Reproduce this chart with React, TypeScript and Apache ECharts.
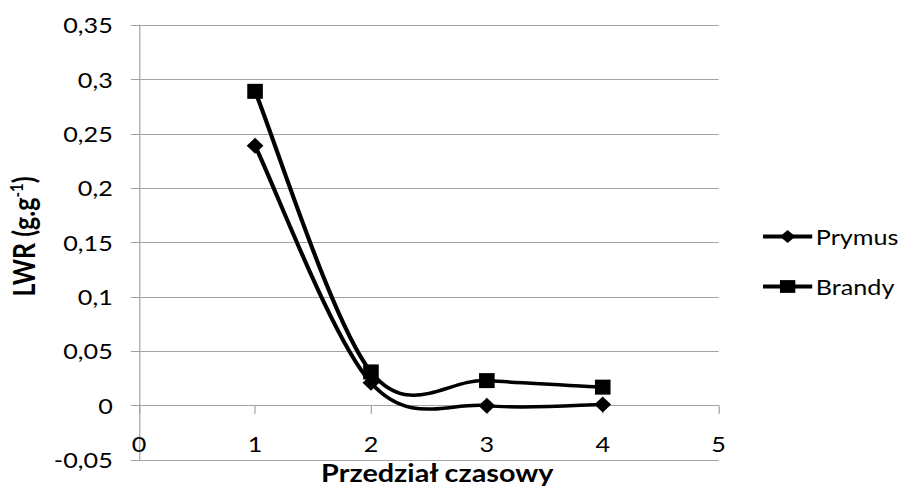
import React, { useEffect, useRef } from "react";
import * as echarts from "echarts";

// Time intervals (x) and LWR values for the two cultivars
const intervals = [1, 2, 3, 4];
const prymus = [0.239, 0.021, 0.0, 0.001];
const brandy = [0.289, 0.031, 0.023, 0.017];
const seriesNames = ["Prymus", "Brandy"];

const FONT = "Lato, 'Open Sans', sans-serif";
const GRID_COLOR = "#a3a3a3";
const LINE_W = 3.5;

// The chart is laid out on a narrower canvas and widened to the page with scaleX,
// which gives the wide, Calibri-like lettering.
const PAGE_W = 901;
const PAGE_H = 493;
const CHART_W = 751;
const STRETCH = PAGE_W / CHART_W;

const fmt = (v: number) => String(Math.round(v * 100) / 100).replace(".", ",");

const pair = (ys: number[]) => intervals.map((x, i) => [x, ys[i]]);

// Smoothed connecting line (Catmull-Rom style cubic segments) drawn through
// the data points in pixel space, via the grid's own coordinate mapping.
const curveSeries = (ys: number[], id: string) => ({
  id,
  type: "custom",
  data: pair(ys),
  z: 2,
  silent: true,
  renderItem: (params: any, api: any) => {
    const i = params.dataIndex;
    const n = ys.length;
    if (i >= n - 1) return null;
    const pt = (k: number) => {
      const j = Math.max(0, Math.min(n - 1, k));
      return api.coord([intervals[j], ys[j]]);
    };
    const p0 = pt(i - 1);
    const p1 = pt(i);
    const p2 = pt(i + 1);
    const p3 = pt(i + 2);
    return {
      type: "bezierCurve",
      shape: {
        x1: p1[0],
        y1: p1[1],
        cpx1: p1[0] + (p2[0] - p0[0]) / 6,
        cpy1: p1[1] + (p2[1] - p0[1]) / 6,
        cpx2: p2[0] - (p3[0] - p1[0]) / 6,
        cpy2: p2[1] - (p3[1] - p1[1]) / 6,
        x2: p2[0],
        y2: p2[1],
      },
      style: { stroke: "#000", lineWidth: LINE_W, fill: null, lineCap: "round" },
    };
  },
});

// Markers and legend entries
const markerSeries = (ys: number[], name: string, symbol: string, size: number[]) => ({
  name,
  type: "line",
  data: pair(ys),
  z: 3,
  symbol,
  symbolSize: size,
  showSymbol: true,
  color: "#000",
  itemStyle: { color: "#000" },
  lineStyle: { color: "#000", width: LINE_W, opacity: 0 },
});

export default function App() {
  const ref = useRef<HTMLDivElement>(null);

  useEffect(() => {
    document.body.style.margin = "0";
    if (!ref.current) return;
    const chart = echarts.init(ref.current, undefined, { renderer: "svg" });

    const xRange = { type: "value", min: 0, max: 5, interval: 1 };
    const legendLine = { color: "#000", width: 4, opacity: 1 };

    chart.setOption({
      animation: false,
      backgroundColor: "#ffffff",
      textStyle: { fontFamily: FONT, color: "#000" },
      grid: { left: 116, right: 152, top: 25, bottom: 33, containLabel: false, outerBoundsMode: "none" },
      xAxis: [
        {
          // axis line and ticks sitting on y = 0
          ...xRange,
          axisLine: { show: true, onZero: true, lineStyle: { color: GRID_COLOR, width: 1 } },
          axisTick: { show: true, length: 8, lineStyle: { color: GRID_COLOR } },
          axisLabel: { show: false },
          splitLine: { show: false },
        },
        {
          // tick labels and title, placed from the bottom edge
          ...xRange,
          position: "bottom",
          name: "Przedział czasowy",
          nameLocation: "middle",
          nameGap: 1,
          nameMoveOverlap: false,
          nameTextStyle: {
            fontFamily: FONT,
            fontSize: 24,
            fontWeight: "bold",
            color: "#000",
            padding: [0, 0, 0, 14],
          },
          axisLine: { show: false, onZero: false },
          axisTick: { show: false },
          axisLabel: { fontFamily: FONT, fontSize: 21, color: "#000", margin: -27 },
          splitLine: { show: false },
        },
      ],
      yAxis: {
        type: "value",
        min: -0.05,
        max: 0.35,
        interval: 0.05,
        name: "{m|LWR (g.g}{s|-1}{m|)}",
        nameLocation: "middle",
        nameGap: 82,
        nameMoveOverlap: false,
        nameTextStyle: {
          fontFamily: FONT,
          fontWeight: "bold",
          color: "#000",
          padding: [0, 0, 0, 12],
          rich: {
            m: { fontFamily: FONT, fontSize: 25, fontWeight: "bold", lineHeight: 28 },
            s: { fontFamily: FONT, fontSize: 15, fontWeight: "bold", lineHeight: 15, verticalAlign: "top" },
          },
        },
        axisLine: { show: true, lineStyle: { color: GRID_COLOR, width: 1 } },
        axisTick: { show: true, length: 7, lineStyle: { color: GRID_COLOR } },
        axisLabel: { fontFamily: FONT, fontSize: 21, color: "#000", margin: 22, formatter: fmt },
        splitLine: { show: true, lineStyle: { color: GRID_COLOR, width: 1 } },
      },
      legend: {
        orient: "vertical",
        left: 629,
        top: 221,
        itemGap: 29,
        itemWidth: 41,
        itemHeight: 16,
        data: seriesNames.map((name) => ({ name, lineStyle: legendLine })),
        lineStyle: legendLine,
        textStyle: { fontFamily: FONT, fontSize: 21, color: "#000", padding: [0, 0, 0, -2] },
      },
      series: [
        curveSeries(prymus, "prymus-curve"),
        curveSeries(brandy, "brandy-curve"),
        markerSeries(prymus, seriesNames[0], "diamond", [14, 16]),
        markerSeries(brandy, seriesNames[1], "rect", [13, 15]),
      ],
    });

    return () => chart.dispose();
  }, []);

  return (
    <div style={{ width: PAGE_W, height: PAGE_H, overflow: "hidden", background: "#fff" }}>
      <div
        ref={ref}
        style={{
          width: CHART_W,
          height: PAGE_H,
          transform: `scaleX(${STRETCH})`,
          transformOrigin: "0 0",
        }}
      />
    </div>
  );
}
